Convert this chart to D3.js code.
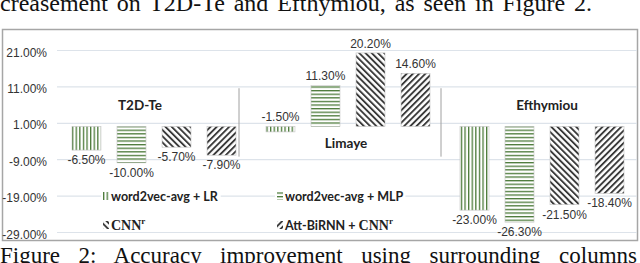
<!DOCTYPE html>
<html>
<head>
<meta charset="utf-8">
<script src="https://cdn.jsdelivr.net/npm/d3@7"></script>
<style>
  body { margin: 0; background: #fff; }
  svg { display: block; }
</style>
</head>
<body>
<svg id="chart" width="640" height="263"></svg>
<script>
// data
const groups = ["T2D-Te", "Limaye", "Efthymiou"];
const lrValues = [-6.5, -1.5, -23.0];
const mlpValues = [-10.0, 11.3, -26.3];
const cnnValues = [-5.7, 20.2, -21.5];
const attValues = [-7.9, 14.6, -18.4];
const yTicks = [21, 11, 1, -9, -19, -29];
const legendSans = ["word2vec-avg + LR", "word2vec-avg + MLP", "", "Att-BiRNN + "];
const legendSerif = ["", "", "CNN", "CNN"];
const headText = "creasement on T2D-Te and Efthymiou, as seen in Figure 2.";
const captionText = "Figure 2: Accuracy improvement using surrounding columns";

const series = [lrValues, mlpValues, cnnValues, attValues];
const patternIds = ["pv", "ph", "pdb", "pdf"];

// layout bits (not data)
const labelLevel = [4.5, -6, 4.5];
const labelDx = [-14, -2, 5];
const sepDx = [-12, -4];

const svg = d3.select("#chart");
const green = "#4b7a39", dark = "#3a3a3a";
const pct = d3.formatLocale({ decimal: ".", thousands: ",", grouping: [3], currency: ["", ""], minus: "-" }).format(".2f");

// patterns
const defs = svg.append("defs");
function stripes(id, w, h, rw, rh, color, rot) {
  const p = defs.append("pattern")
    .attr("id", id)
    .attr("patternUnits", "userSpaceOnUse")
    .attr("width", w).attr("height", h);
  if (rot) p.attr("patternTransform", "rotate(" + rot + ")");
  p.append("rect").attr("width", w).attr("height", h).attr("fill", "#fff");
  p.append("rect").attr("x", 0).attr("y", 0).attr("width", rw).attr("height", rh).attr("fill", color);
}
stripes("pv", 3.6, 10, 1.3, 10, green, 0);
stripes("ph", 10, 3.6, 10, 1.3, green, 0);
stripes("pdb", 4.4, 10, 1.9, 10, dark, -45);
stripes("pdf", 4.4, 10, 1.9, 10, dark, 45);

// surrounding paper text
function fitWords(sel, target) {
  const n = (sel.text().match(/ /g) || []).length;
  const w = sel.node().getComputedTextLength();
  sel.attr("word-spacing", Math.max(0, (target - w) / n));
}
const head = svg.append("text")
  .attr("x", 0).attr("y", 11)
  .style("font-family", "'Liberation Serif', serif")
  .style("font-size", "24px")
  .attr("fill", "#111")
  .text(headText);
fitWords(head, 592);

const caption = svg.append("text")
  .attr("x", 0).attr("y", 263)
  .style("font-family", "'Liberation Serif', serif")
  .style("font-size", "23px")
  .attr("fill", "#111")
  .text(captionText);
fitWords(caption, 637);

// frame
svg.append("rect")
  .attr("x", 2.5).attr("y", 29.5)
  .attr("width", 635).attr("height", 211)
  .attr("fill", "#fff")
  .attr("stroke", "#a6a6a6")
  .attr("stroke-width", 1.5);

// scales
const x0 = d3.scaleBand().domain(groups).range([57, 639]);
const x1 = d3.scaleBand().domain(d3.range(series.length))
  .range([0, x0.bandwidth()])
  .paddingInner(0.356)
  .paddingOuter(0.333);
const y = d3.scaleLinear().domain([-29, 21]).range([232, 50]);

// grid + y labels
const yAxis = d3.axisLeft(y).tickValues(yTicks)
  .tickSize(-(637 - 57))
  .tickFormat(d => pct(d) + "%");
const ga = svg.append("g").attr("transform", "translate(57,0)").call(yAxis);
ga.select(".domain").remove();
ga.selectAll(".tick line").attr("stroke", "#dde3ea").attr("stroke-width", 1.2);
ga.selectAll(".tick text")
  .attr("x", -10).attr("dy", "0.5em")
  .attr("fill", "#333")
  .style("font-family", "'Liberation Sans', Arial, sans-serif")
  .style("font-size", "12px");

// group separators
svg.append("g").selectAll("line")
  .data(groups.slice(1))
  .join("line")
  .attr("x1", (g, i) => x0(g) + sepDx[i])
  .attr("x2", (g, i) => x0(g) + sepDx[i])
  .attr("y1", y(10.5))
  .attr("y2", y(-8.3))
  .attr("stroke", "#a0a0a0")
  .attr("stroke-width", 1);

// group labels
svg.append("g").selectAll("text")
  .data(groups)
  .join("text")
  .attr("x", (g, i) => x0(g) + x0.bandwidth() / 2 + labelDx[i])
  .attr("y", (g, i) => y(labelLevel[i]))
  .attr("text-anchor", "middle")
  .attr("fill", "#222")
  .style("font-family", "Lato, 'Open Sans', sans-serif")
  .style("font-weight", "bold")
  .style("font-size", "13.5px")
  .text(g => g);

// bars
const cells = [];
groups.forEach((g, gi) => series.forEach((s, si) => cells.push({ g, si, v: s[gi] })));

const bars = svg.append("g");
bars.selectAll("rect")
  .data(cells)
  .join("rect")
  .attr("x", d => x0(d.g) + x1(d.si))
  .attr("width", x1.bandwidth())
  .attr("y", d => y(Math.max(0, d.v)))
  .attr("height", d => Math.abs(y(d.v) - y(0)))
  .attr("fill", d => "url(#" + patternIds[d.si] + ")")
  .attr("stroke", "#c4c4c4")
  .attr("stroke-width", 0.6);

bars.selectAll("text")
  .data(cells)
  .join("text")
  .attr("x", d => x0(d.g) + x1(d.si) + x1.bandwidth() / 2)
  .attr("y", d => (d.v < -3) ? y(d.v) + 14 : y(Math.max(0, d.v)) - 5)
  .attr("text-anchor", "middle")
  .attr("fill", "#333")
  .style("font-family", "'Liberation Sans', Arial, sans-serif")
  .style("font-size", "12px")
  .text(d => pct(d.v) + "%");

// legend
const legCols = [103, 277], legRows = [196, 225];
const leg = svg.append("g");
series.forEach((s, i) => {
  const lx = legCols[i % 2], ly = legRows[Math.floor(i / 2)];
  const item = leg.append("g").attr("transform", "translate(" + lx + "," + ly + ")");
  const bg = item.append("rect").attr("fill", "#fff");
  item.append("rect")
    .attr("x", 0).attr("y", -4)
    .attr("width", 6).attr("height", 8)
    .attr("fill", "url(#" + patternIds[i] + ")");
  const t = item.append("text")
    .attr("x", 8).attr("y", 4.5)
    .attr("fill", "#222");
  t.append("tspan")
    .style("font-family", "Lato, 'Open Sans', sans-serif")
    .style("font-weight", "bold")
    .style("font-size", "12.5px")
    .text(legendSans[i]);
  if (legendSerif[i]) {
    t.append("tspan")
      .style("font-family", "'Liberation Serif', serif")
      .style("font-weight", "bold")
      .style("font-size", "14px")
      .text(legendSerif[i]);
    t.append("tspan")
      .attr("dy", -6)
      .style("font-family", "'Liberation Serif', serif")
      .style("font-weight", "bold")
      .style("font-size", "9px")
      .text("r");
  }
  const bb = t.node().getBBox();
  bg.attr("x", -2).attr("y", -9).attr("width", bb.x + bb.width + 4).attr("height", 16);
});
</script>
</body>
</html>
